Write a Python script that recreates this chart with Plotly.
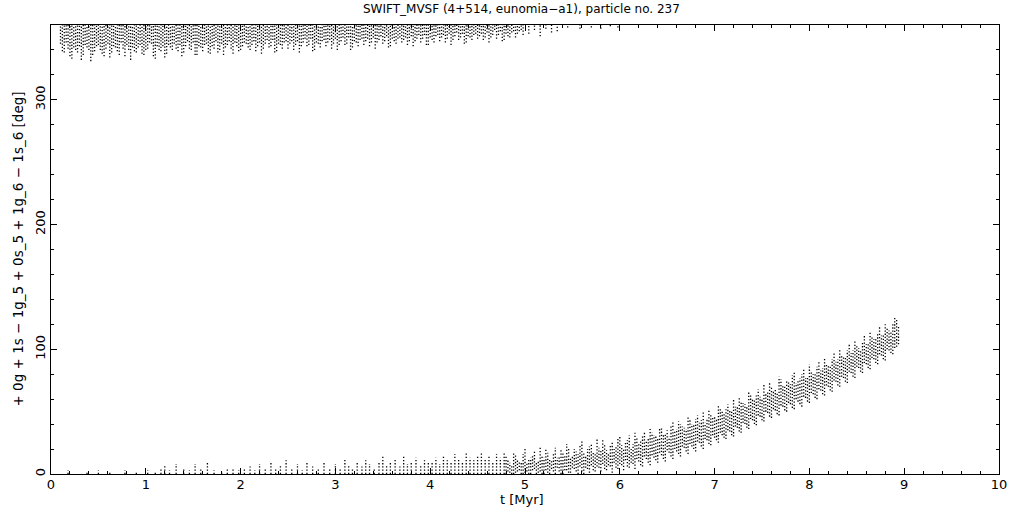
import plotly.graph_objects as go

# ---------------- data ----------------
# upper band (angle wraps near 360 deg): each column runs from its low value up to 360
top_t = [0.10,0.14,0.18,0.22,0.26,0.30,0.34,0.38,0.42,0.46,
         0.50,0.54,0.58,0.62,0.66,0.70,0.74,0.78,0.82,0.86,
         0.90,0.94,0.98,1.02,1.06,1.10,1.14,1.18,1.22,1.26,
         1.30,1.34,1.38,1.42,1.46,1.50,1.54,1.58,1.62,1.66,
         1.70,1.74,1.78,1.82,1.86,1.90,1.94,1.98,2.02,2.06,
         2.10,2.14,2.18,2.22,2.26,2.30,2.34,2.38,2.42,2.46,
         2.50,2.54,2.58,2.62,2.66,2.70,2.74,2.78,2.82,2.86,
         2.90,2.94,2.98,3.02,3.06,3.10,3.14,3.18,3.22,3.26,
         3.30,3.34,3.38,3.42,3.46,3.50,3.54,3.58,3.62,3.66,
         3.70,3.74,3.78,3.82,3.86,3.90,3.94,3.98,4.02,4.06,
         4.10,4.14,4.18,4.22,4.26,4.30,4.34,4.38,4.42,4.46,
         4.50,4.54,4.58,4.62,4.66,4.70,4.74,4.78,4.82,4.86,
         4.90,4.94,4.98,
         5.04,5.10,5.16,5.22,5.28,5.34,5.45,5.58,5.70,5.80,5.90,5.98]
top_lo = [345,338,341,333,340,343,336,342,331,339,
          344,337,341,334,343,339,346,335,340,342,
          338,344,336,341,345,333,340,343,337,342,
          345,339,335,343,341,346,336,342,344,338,
          343,347,340,336,344,341,346,339,343,345,
          340,347,343,337,345,342,348,339,344,346,
          341,347,344,338,346,343,349,340,345,347,
          343,348,345,340,347,344,350,342,346,348,
          344,349,346,341,348,345,351,343,347,349,
          346,350,347,343,349,346,352,344,348,351,
          347,352,349,344,351,348,353,346,350,352,
          349,353,350,346,352,349,355,348,351,354,
          350,355,352,
          353,356,351,357,354,355,358,357,358,357,359,358]

top2_t = [0.12,0.16,0.20,0.24,0.28,0.32,0.36,0.40,0.44,0.48,
          0.52,0.56,0.60,0.64,0.68,0.72,0.76,0.80,0.84,0.88,
          0.92,0.96,1.00,1.04,1.08,1.12,1.16,1.20,1.24,1.28,
          1.32,1.36,1.40,1.44,1.48,1.52,1.56,1.60,1.64,1.68,
          1.72,1.76,1.80,1.84,1.88,1.92,1.96,2.00,2.04,2.08,
          2.12,2.16,2.20,2.24,2.28,2.32,2.36,2.40,2.44,2.48,
          2.52,2.56,2.60,2.64,2.68,2.72,2.76,2.80,2.84,2.88,
          2.92,2.96,3.00,3.04,3.08,3.12,3.16,3.20,3.24,3.28,
          3.32,3.36,3.40,3.44,3.48,3.52,3.56,3.60,3.64,3.68,
          3.72,3.76,3.80,3.84,3.88,3.92,3.96,4.00,4.04,4.08,
          4.12,4.16,4.20,4.24,4.28,4.32,4.36,4.40,4.44,4.48,
          4.52,4.56,4.60,4.64,4.68,4.72,4.76,4.80,4.84,4.88,
          4.92,4.96]
top2_lo = [339,346,335,342,338,332,344,340,336,343,
           340,335,345,338,342,336,341,344,332,339,
           342,337,340,346,335,343,339,334,344,340,
           341,344,338,347,340,336,343,339,345,337,
           341,338,345,342,347,337,343,340,346,342,
           344,339,346,341,348,343,338,345,341,347,
           345,340,347,343,349,344,339,346,342,348,
           346,341,349,344,350,345,340,347,343,349,
           347,343,350,346,351,347,342,349,345,350,
           348,344,351,347,352,349,344,350,346,352,
           350,346,353,348,354,350,345,351,348,353,
           351,348,354,350,356,352,347,353,350,355,
           353,356]
top_hi = 360

# wrapped part of the upper band, just above 0 deg (t < 4.8)
bot_t = [0.18,0.38,0.50,0.62,0.78,0.90,
         1.02,1.10,1.16,1.20,1.25,1.32,1.40,1.46,1.52,1.58,1.65,1.72,1.80,1.86,1.92,1.98,
         2.04,2.10,2.15,2.20,2.26,2.32,2.37,2.42,2.48,2.54,2.60,2.65,2.70,2.76,2.82,2.88,2.94,
         3.00,3.05,3.10,3.14,3.18,3.23,3.28,3.32,3.36,3.41,3.46,3.50,3.54,3.58,3.63,3.68,
         3.72,3.76,3.80,3.85,3.90,3.94,3.98,
         4.02,4.06,4.10,4.14,4.18,4.22,4.26,4.30,4.34,4.38,4.42,4.46,4.50,4.54,4.58,4.62,
         4.66,4.70,4.74,4.78]
bot_hi = [3,2,3,2,3,2,
          3,2,4,7,3,8,5,3,8,4,9,3,2,5,4,3,
          4,6,3,8,5,10,4,7,11,5,8,3,9,6,4,10,5,
          8,5,12,7,4,9,6,11,8,5,10,14,7,9,12,6,
          15,8,10,13,7,11,9,
          10,13,8,15,11,9,16,12,10,17,13,11,14,18,12,15,
          10,16,13,17]
bot_lo = 0

# rising band (t > 4.8), two interleaved sets of columns
band_t = [4.80,4.84,4.88,4.92,4.96,5.00,5.04,5.08,5.12,5.16,
          5.20,5.24,5.28,5.32,5.36,5.40,5.44,5.48,5.52,5.56,
          5.60,5.64,5.68,5.72,5.76,5.80,5.84,5.88,5.92,5.96,
          6.00,6.04,6.08,6.12,6.16,6.20,6.24,6.28,6.32,6.36,
          6.40,6.44,6.48,6.52,6.56,6.60,6.64,6.68,6.72,6.76,
          6.80,6.84,6.88,6.92,6.96,7.00,7.04,7.08,7.12,7.16,
          7.20,7.24,7.28,7.32,7.36,7.40,7.44,7.48,7.52,7.56,
          7.60,7.64,7.68,7.72,7.76,7.80,7.84,7.88,7.92,7.96,
          8.00,8.04,8.08,8.12,8.16,8.20,8.24,8.28,8.32,8.36,
          8.40,8.44,8.48,8.52,8.56,8.60,8.64,8.68,8.72,8.76,
          8.80,8.84,8.88,8.92,8.94]
band_lo = [0,1,0,2,0,1,0,3,0,2,
           0,1,4,0,2,0,3,1,4,0,
           2,5,1,3,6,2,4,7,1,5,
           8,3,6,9,4,10,6,12,7,13,
           9,15,10,17,12,18,14,21,16,22,
           18,25,20,27,23,29,25,31,28,34,
           30,37,33,40,36,43,39,46,42,49,
           45,51,47,54,50,56,52,58,54,61,
           57,64,60,67,63,70,66,74,70,77,
           73,81,77,85,81,88,84,92,88,95,
           91,99,96,102,104]
band_hi = [14,9,18,12,10,20,12,15,9,22,
           13,17,11,21,14,18,24,13,20,16,
           26,15,22,18,28,19,24,17,26,22,
           30,21,27,20,33,25,30,27,36,31,
           28,38,33,30,42,36,40,37,46,40,
           44,41,50,45,48,46,55,50,52,51,
           60,55,58,56,66,60,63,62,72,66,
           70,68,78,71,75,72,82,75,80,77,
           88,80,86,83,93,87,92,90,100,94,
           99,97,107,101,106,104,114,108,113,111,
           120,115,121,124,119]

band2_t = [4.82,4.86,4.90,4.94,4.98,5.02,5.06,5.10,5.14,5.18,
           5.22,5.26,5.30,5.34,5.38,5.42,5.46,5.50,5.54,5.58,
           5.62,5.66,5.70,5.74,5.78,5.82,5.86,5.90,5.94,5.98,
           6.02,6.06,6.10,6.14,6.18,6.22,6.26,6.30,6.34,6.38,
           6.42,6.46,6.50,6.54,6.58,6.62,6.66,6.70,6.74,6.78,
           6.82,6.86,6.90,6.94,6.98,7.02,7.06,7.10,7.14,7.18,
           7.22,7.26,7.30,7.34,7.38,7.42,7.46,7.50,7.54,7.58,
           7.62,7.66,7.70,7.74,7.78,7.82,7.86,7.90,7.94,7.98,
           8.02,8.06,8.10,8.14,8.18,8.22,8.26,8.30,8.34,8.38,
           8.42,8.46,8.50,8.54,8.58,8.62,8.66,8.70,8.74,8.78,
           8.82,8.86,8.90]
band2_lo = [2,0,1,3,0,2,0,4,1,0,
            3,0,2,5,0,3,1,5,2,6,
            0,4,7,2,5,8,3,6,9,4,
            7,11,5,8,12,7,14,9,15,11,
            17,12,19,14,20,16,22,18,24,20,
            26,22,28,24,31,27,33,29,35,31,
            38,34,41,37,44,40,47,43,50,46,
            52,48,55,51,57,53,60,56,62,58,
            65,61,68,64,71,67,75,71,78,74,
            82,78,86,82,89,85,93,89,96,92,
            100,97,101]
band2_hi = [11,7,15,10,16,9,13,18,11,15,
            20,12,16,13,19,15,21,14,18,23,
            17,20,25,16,21,27,19,24,20,28,
            23,25,31,24,29,26,34,28,33,30,
            37,32,35,39,34,42,38,36,44,39,
            47,43,41,51,46,44,53,48,56,50,
            54,62,57,55,64,59,68,61,65,74,
            67,65,76,70,74,79,73,77,85,78,
            83,80,90,85,89,86,97,92,95,93,
            104,99,103,100,111,105,110,108,118,112,
            117,114,125]

x_ticks = [0, 1, 2, 3, 4, 5, 6, 7, 8, 9, 10]
y_ticks = [0, 100, 200, 300]

TITLE = "SWIFT_MVSF (4+514, eunomia\u2212a1), particle no. 237"
YTITLE = "+ 0g + 1s \u2212 1g_5 + 0s_5 + 1g_6 \u2212 1s_6 [deg]"
XTITLE = "t [Myr]"

# ---------------- build ----------------
def columns(ts, los, his):
    xs, ys = [], []
    n = len(ts)
    if not isinstance(los, list):
        los = [los] * n
    if not isinstance(his, list):
        his = [his] * n
    for t, lo, hi in zip(ts, los, his):
        xs += [t, t, None]
        ys += [lo, hi, None]
    return xs, ys

FONT = "DejaVu Sans"
dot = dict(color="black", width=1.3, dash="1.3px,1.9px")

fig = go.Figure()
for ts, los, his in [(top_t, top_lo, top_hi), (top2_t, top2_lo, top_hi),
                     (bot_t, bot_lo, bot_hi),
                     (band_t, band_lo, band_hi), (band2_t, band2_lo, band2_hi)]:
    xs, ys = columns(ts, los, his)
    fig.add_trace(go.Scatter(x=xs, y=ys, mode="lines", line=dot,
                             hoverinfo="skip", showlegend=False))

axis_common = dict(showline=True, linecolor="black", linewidth=1, mirror="ticks",
                   ticks="inside", tickcolor="black", tickwidth=1, ticklen=6,
                   showgrid=False, zeroline=False, automargin=False,
                   tickfont=dict(family=FONT, size=13, color="black"))

fig.update_layout(
    width=1021, height=511,
    margin=dict(l=51, r=22, t=25, b=37),
    paper_bgcolor="white", plot_bgcolor="white",
    xaxis=dict(range=[0, 10], tickvals=x_ticks, ticklabelstandoff=-2,
               minor=dict(ticks="inside", dtick=0.2, ticklen=3, tickcolor="black"),
               **axis_common),
    yaxis=dict(range=[0, 360], tickvals=y_ticks, tickangle=-90,
               minor=dict(ticks="inside", dtick=20, ticklen=3, tickcolor="black"),
               **axis_common),
    annotations=[
        dict(text=TITLE, xref="paper", yref="paper", x=0.5, y=1, xshift=-4, yshift=16,
             xanchor="center", yanchor="middle",
             showarrow=False, font=dict(family=FONT, size=12, color="black")),
        dict(text=XTITLE, xref="paper", yref="paper", x=0.5, y=0, xshift=-3, yshift=-25,
             xanchor="center", yanchor="middle",
             showarrow=False, font=dict(family=FONT, size=13, color="black")),
        dict(text=YTITLE, xref="paper", yref="paper", x=0, y=0.5, xshift=-34,
             xanchor="center", yanchor="middle",
             textangle=-90, showarrow=False, font=dict(family=FONT, size=13.5, color="black")),
    ],
)

# remove the default page margin so the figure fills the window exactly
fig.write_html("out.html", config={"displayModeBar": False},
               post_script="document.body.style.margin='0';")
